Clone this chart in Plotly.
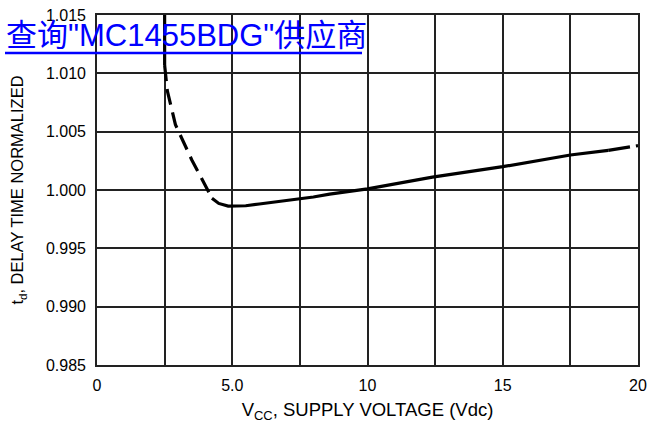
import plotly.graph_objects as go

# data
top_v = [2.5, 2.5]
top_td = [1.0150, 1.0107]
dash1_v = [2.5, 2.6, 2.9, 3.5, 4.25]
dash1_td = [1.0107, 1.0085, 1.0056, 1.0026, 0.9993]
solid_v = [4.25, 4.5, 4.85, 5.5, 6.0, 7.0, 8.0, 8.6, 10.0, 12.4, 15.0, 17.5, 18.9]
solid_td = [0.9993, 0.99885, 0.99862, 0.99865, 0.9988, 0.9991, 0.9994, 0.99965, 1.0001, 1.0011, 1.0020, 1.0030, 1.0034]
dash2_v = [18.9, 20.0]
dash2_td = [1.0034, 1.0038]

x_grid = [0, 2.5, 5, 7.5, 10, 12.5, 15, 17.5, 20]
x_text = ["0", "", "5.0", "", "10", "", "15", "", "20"]
y_grid = [0.985, 0.990, 0.995, 1.000, 1.005, 1.010, 1.015]
y_text = ["0.985", "0.990", "0.995", "1.000", "1.005", "1.010", "1.015"]

FONT = "Liberation Sans Narrow, Arial Narrow, Liberation Sans, sans-serif"

fig = go.Figure()
line = dict(color="black", width=3.2)
fig.add_trace(go.Scatter(x=top_v, y=top_td, mode="lines", line=line, showlegend=False))
fig.add_trace(go.Scatter(x=dash1_v, y=dash1_td, mode="lines",
                         line=dict(color="black", width=3.2, dash="16px,8px"), showlegend=False))
fig.add_trace(go.Scatter(x=solid_v, y=solid_td, mode="lines", line=line, showlegend=False))
fig.add_trace(go.Scatter(x=dash2_v, y=dash2_td, mode="lines",
                         line=dict(color="black", width=3.2, dash="22px,6px"), showlegend=False))

fig.update_layout(
    width=651, height=438,
    margin=dict(l=97, r=13, t=15, b=73),
    paper_bgcolor="white", plot_bgcolor="white",
    font=dict(family=FONT, size=16, color="black"),
    xaxis=dict(range=[0, 20], tickvals=x_grid, ticktext=x_text, automargin=False,
               showgrid=True, gridcolor="#222222", gridwidth=1.6,
               showline=True, linecolor="#222222", linewidth=1.6, mirror=True,
               zeroline=False, ticks="outside", ticklen=5, tickcolor="white",
               title=dict(text="V<sub>CC</sub>, SUPPLY VOLTAGE (Vdc)", font=dict(size=18.5), standoff=10)),
    yaxis=dict(range=[0.985, 1.015], tickvals=y_grid, ticktext=y_text, automargin=False,
               showgrid=True, gridcolor="#222222", gridwidth=1.6,
               showline=True, linecolor="#222222", linewidth=1.6, mirror=True,
               zeroline=False, ticks="outside", ticklen=6, tickcolor="white",
               title=dict(text="t<sub>d</sub>, DELAY TIME NORMALIZED", font=dict(size=16.5), standoff=18)),
)

fig.add_annotation(text="查询\"MC1455BDG\"供应商", xref="paper", yref="paper",
                   x=-97/541, y=1 - (35 - 15) / 350, xanchor="left", yanchor="middle",
                   xshift=4, showarrow=False,
                   font=dict(family="Liberation Sans, Noto Sans CJK SC, sans-serif", size=31, color="#0000ff"))
fig.add_shape(type="line", xref="paper", yref="paper",
              x0=-92/541, x1=(362 - 97) / 541, y0=1 - (53 - 15) / 350, y1=1 - (53 - 15) / 350,
              line=dict(color="#0000ff", width=2.5))

fig.write_html("out.html", post_script="document.body.style.margin='0px';",
               config={"displayModeBar": False})
